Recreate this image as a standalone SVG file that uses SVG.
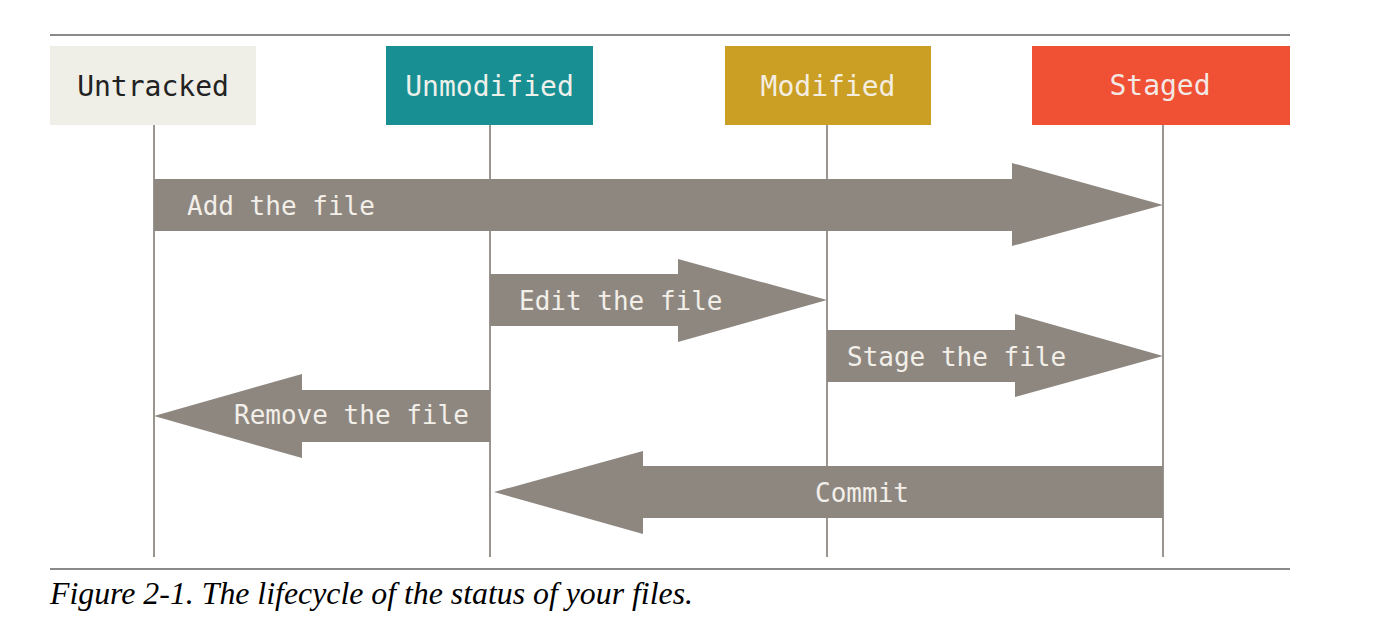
<svg xmlns="http://www.w3.org/2000/svg" width="1382" height="640" viewBox="0 0 1382 640">
<style>
.rule{stroke:#8a8a8a;stroke-width:2}
.life{stroke:#9b958f;stroke-width:2}
.arrow{fill:#8e8780}
.nl{font-family:"DejaVu Sans Mono",monospace;font-size:28px;text-anchor:middle}
.al{font-family:"DejaVu Sans Mono",monospace;font-size:26px;fill:#f2efe9}
.cap{font-family:"Liberation Serif",serif;font-style:italic;font-size:32px;fill:#000}
</style>
<rect width="1382" height="640" fill="#fff"/>
<line class="rule" x1="50" y1="35" x2="1290" y2="35"/>
<line class="rule" x1="50" y1="569" x2="1290" y2="569"/>
<g id="lifelines">
<line class="life" x1="154" y1="125" x2="154" y2="557"/>
<line class="life" x1="490" y1="125" x2="490" y2="557"/>
<line class="life" x1="827" y1="125" x2="827" y2="557"/>
<line class="life" x1="1163" y1="125" x2="1163" y2="557"/>
</g>
<g id="untracked"><rect x="50" y="46" width="206" height="79" fill="#efeee7"/><text class="nl" x="153" y="96" fill="#222">Untracked</text></g>
<g id="unmodified"><rect x="386" y="46" width="207" height="79" fill="#188f93"/><text class="nl" x="489.5" y="96" fill="#eef0ea">Unmodified</text></g>
<g id="modified"><rect x="725" y="46" width="206" height="79" fill="#cb9e24"/><text class="nl" x="828" y="96" fill="#f3eee0">Modified</text></g>
<g id="staged"><rect x="1032" y="46" width="258" height="79" fill="#f05034"/><text class="nl" x="1160" y="95" fill="#f3e9e4">Staged</text></g>
<g id="connectors">
<g id="add"><polygon class="arrow" points="154,179 1012,179 1012,163 1163,205 1012,246 1012,231 154,231"/><text class="al" x="187" y="215">Add the file</text></g>
<g id="edit"><polygon class="arrow" points="490,274 678,274 678,259 827,300 678,342 678,326 490,326"/><text class="al" x="519" y="310">Edit the file</text></g>
<g id="stage"><polygon class="arrow" points="827,330 1015,330 1015,314 1163,356 1015,397 1015,382 827,382"/><text class="al" x="847" y="366">Stage the file</text></g>
<g id="remove"><polygon class="arrow" points="490,390 302,390 302,374 154,416 302,458 302,442 490,442"/><text class="al" x="234" y="424">Remove the file</text></g>
<g id="commit"><polygon class="arrow" points="1163,466 643,466 643,451 494,492 643,534 643,518 1163,518"/><text class="al" x="862" y="502" text-anchor="middle">Commit</text></g>
</g>
<text class="cap" x="50" y="604" textLength="643" lengthAdjust="spacingAndGlyphs">Figure 2-1. The lifecycle of the status of your files.</text>
</svg>
